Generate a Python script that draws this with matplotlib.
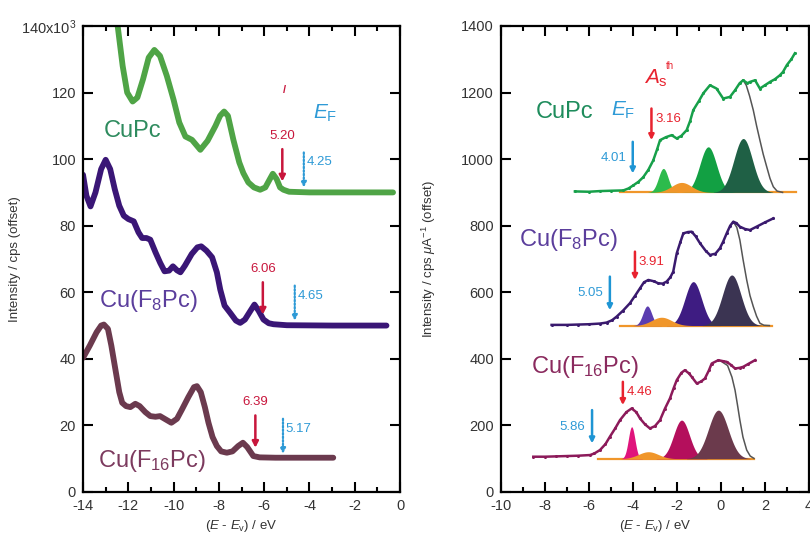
import numpy as np
import matplotlib
matplotlib.use('Agg')
import matplotlib.pyplot as plt
import matplotlib.ticker as ticker

plt.rcParams['font.family'] = ['Liberation Sans', 'DejaVu Sans']
plt.rcParams['mathtext.fontset'] = 'custom'
plt.rcParams['mathtext.rm'] = 'Liberation Sans'
plt.rcParams['mathtext.it'] = 'Liberation Sans:italic'
plt.rcParams['mathtext.bf'] = 'Liberation Sans:bold'
plt.rcParams['axes.unicode_minus'] = False

# ---------------- left panel: UPS spectra (offset) ----------------
cupc_x = [-12.7, -12.47, -12.25, -12.05, -11.81, -11.6, -11.35, -11.1, -10.85, -10.6, -10.3, -10.0,
          -9.75, -9.48, -9.19, -8.82, -8.5, -8.15, -7.95, -7.77, -7.6, -7.36, -7.1, -6.92, -6.7,
          -6.45, -6.18, -5.95, -5.75, -5.62, -5.45, -5.3, -5.15, -4.9, -4.0, -2.0, -0.31]
cupc_y = [150, 140, 128, 120, 117.3, 118.5, 124, 130.5, 132.8, 131, 125, 117.8,
          111, 106.8, 105.8, 102.8, 105.5, 110, 113, 114.3, 113, 105.8, 99, 95.8, 93,
          91.5, 90.8, 91.5, 94, 95.6, 94, 91.5, 90.8, 90.2, 90, 90, 90]

f8_x = [-14.0, -13.85, -13.67, -13.45, -13.2, -13.0, -12.8, -12.6, -12.4, -12.2, -12.0, -11.76,
        -11.55, -11.39, -11.2, -11.03, -10.8, -10.59, -10.4, -10.2, -10.03, -9.85, -9.7, -9.5,
        -9.2, -8.95, -8.78, -8.55, -8.3, -8.09, -7.94, -7.75, -7.5, -7.25, -7.06, -6.85, -6.6,
        -6.43, -6.25, -6.03, -5.8, -5.59, -5.0, -3.0, -0.6]
f8_y = [95.3, 89, 85.8, 90, 97, 99.8, 97, 91, 86, 83, 82, 81.3,
        78, 76.3, 76.3, 75.8, 72, 68.8, 66.3, 66.5, 67.8, 66.6, 66, 68,
        71.5, 73.5, 73.8, 72.5, 70.5, 66, 60.8, 56, 53.8, 51.5, 50.8, 51.8, 54.5,
        56.3, 54.5, 51.8, 50.7, 50.4, 50.1, 50, 50]

f16_x = [-14.0, -13.7, -13.4, -13.2, -13.08, -12.9, -12.75, -12.57, -12.4, -12.27, -12.1, -11.91,
         -11.69, -11.5, -11.25, -11.03, -10.8, -10.6, -10.35, -10.1, -9.85, -9.63, -9.35, -9.1,
         -8.97, -8.8, -8.62, -8.46, -8.28, -8.09, -7.9, -7.65, -7.4, -7.15, -6.94, -6.75, -6.48,
         -6.2, -5.5, -2.95]
f16_y = [40.3, 44, 48, 50, 50.3, 49, 44, 36.8, 30, 26.8, 25.8, 25.5,
         26.5, 25.8, 24, 22.8, 22.6, 22.8, 21.8, 20.8, 22, 24.8, 28.5, 31.5,
         31.8, 30, 25.5, 20.8, 16.5, 13.8, 12.2, 11.8, 12.2, 13.8, 14.8, 13.5, 10.8,
         10.4, 10.3, 10.3]

ups_names = ['CuPc', 'Cu(F$_8$Pc)', 'Cu(F$_{16}$Pc)']
ups_base = [90, 50, 10]
ups_vb = [5.20, 6.06, 6.39]      # red arrows
ups_ef = [4.25, 4.65, 5.17]      # blue dotted arrows
ups_line_col = ['#4fa446', '#3a1676', '#6b3a4e']
ups_text_col = ['#2e8b5e', '#5b3e9c', '#7c3a5e']
ups_label_pos = [(-11.83, 108.3), (-11.1, 57.3), (-10.95, 9.3)]

# ---------------- right panel: IPES spectra with Gaussian components ----------------
ip_cupc_x = [-6.64, -6.0, -5.5, -5.0, -4.44, -4.2, -3.99, -3.75, -3.53, -3.3, -3.08, -2.9, -2.77,
             -2.5, -2.24, -2.01, -1.8, -1.56, -1.4, -1.26, -1.0, -0.8, -0.5, -0.2, 0.1, 0.41, 0.64,
             0.85, 1.01, 1.2, 1.32, 1.55, 1.77, 2.0, 2.23, 2.45, 2.68, 2.82, 3.0, 3.2, 3.36]
ip_cupc_y = [903, 902, 904, 905, 906, 912, 921, 932, 946, 968, 996, 1030, 1057,
             1066, 1072, 1062, 1070, 1087, 1115, 1147, 1175, 1198, 1222, 1212, 1182, 1187, 1207,
             1228, 1237, 1228, 1232, 1237, 1212, 1222, 1232, 1240, 1252, 1262, 1283, 1300, 1318]
ip_f8_x = [-7.7, -7.0, -6.5, -6.0, -5.5, -5.2, -4.95, -4.74, -4.45, -4.14, -3.9, -3.68, -3.5, -3.3,
           -3.05, -2.85, -2.65, -2.47, -2.3, -2.17, -2.01, -1.85, -1.71, -1.5, -1.33, -1.15, -0.95,
           -0.7, -0.5, -0.25, -0.05, 0.1, 0.26, 0.42, 0.56, 0.7, 0.86, 1.1, 1.32, 1.62, 2.0, 2.38]
ip_f8_y = [502, 502, 503, 504, 506, 509, 516, 527, 545, 567, 590, 612, 630, 637,
           633, 627, 626, 632, 645, 662, 717, 750, 777, 781, 782, 768, 747,
           725, 712, 716, 732, 752, 777, 800, 812, 808, 797, 790, 787, 797, 810, 822]
ip_f16_x = [-8.53, -8.0, -7.5, -7.0, -6.5, -5.95, -5.75, -5.5, -5.25, -5.05, -4.8, -4.59, -4.3,
            -4.06, -3.85, -3.68, -3.45, -3.23, -3.0, -2.77, -2.55, -2.32, -2.15, -2.01, -1.8,
            -1.64, -1.45, -1.33, -1.1, -0.9, -0.73, -0.55, -0.42, -0.12, 0.1, 0.26, 0.45, 0.64,
            0.85, 1.01, 1.25, 1.55]
ip_f16_y = [106, 106, 107, 108, 109, 111, 116, 126, 144, 166, 192, 216, 240,
            251, 240, 221, 203, 191, 198, 216, 250, 281, 312, 336, 358,
            366, 356, 346, 326, 332, 341, 365, 386, 396, 393, 391, 382, 371,
            373, 376, 385, 396]

# envelope of the fit (visible tail only)
env_cupc_x = [1.01, 1.15, 1.3, 1.47, 1.62, 1.77, 1.92, 2.08, 2.23, 2.38, 2.55, 2.8]
env_cupc_y = [1237, 1222, 1190, 1147, 1100, 1057, 1015, 977, 942, 917, 904, 900]
env_f8_x = [0.56, 0.72, 0.86, 1.0, 1.17, 1.32, 1.47, 1.62, 1.77, 1.95, 2.2]
env_f8_y = [812, 795, 757, 700, 637, 590, 557, 528, 507, 501, 500]
env_f16_x = [0.0, 0.3, 0.5, 0.64, 0.75, 0.86, 1.0, 1.17, 1.33, 1.5]
env_f16_y = [393, 380, 345, 306, 262, 216, 165, 126, 108, 101]

# Gaussian components: centre, height, width
g_cupc = dict(c=[-2.62, -1.79, -0.58, 1.01], h=[72, 30, 137, 162], s=[0.22, 0.45, 0.38, 0.42],
              col=['#2dbb4c', '#f0962a', '#12a043', '#1f6045'])
g_f8 = dict(c=[-3.35, -2.7, -1.26, 0.49], h=[59, 25, 132, 152], s=[0.2, 0.45, 0.38, 0.42],
            col=['#5b3db0', '#f0962a', '#3e1c82', '#3b3452'])
g_f16 = dict(c=[-4.06, -3.3, -1.79, -0.12], h=[96, 21, 116, 146], s=[0.15, 0.45, 0.36, 0.45],
             col=['#e0147c', '#f0962a', '#b40f5c', '#6b3a4c'])

ip_base = [900, 500, 100]
ip_orange_range = [(-4.6, 3.4), (-4.6, 2.3), (-5.6, 1.5)]
ip_as = [3.16, 3.91, 4.46]      # red arrows
ip_as_y = [(1152, 1057), (722, 637), (331, 261)]
ip_ef = [4.01, 5.05, 5.86]      # blue arrows
ip_ef_y = [(1052, 957), (647, 546), (246, 146)]
ip_line_col = ['#17a04a', '#3a1a6e', '#8c1a5a']
ip_text_col = ['#1e8c5c', '#5b3e9c', '#8a2a5e']
ip_label_pos = [(-7.1, 1143), (-6.95, 757), (-6.18, 376)]

RED = '#c8163c'
BLUE = '#2e9ad6'
TICKCOL = '#333333'

fig = plt.figure(figsize=(8.1, 5.4), dpi=100)
axL = fig.add_axes([0.1025, 0.0889, 0.3914, 0.863])
axR = fig.add_axes([0.6185, 0.0889, 0.3802, 0.863])


def style_axis(ax, xlim, ylim, ymajor):
    ax.set_xlim(*xlim)
    ax.set_ylim(*ylim)
    ax.xaxis.set_major_locator(ticker.MultipleLocator(2))
    ax.xaxis.set_minor_locator(ticker.MultipleLocator(1))
    ax.yaxis.set_major_locator(ticker.MultipleLocator(ymajor))
    ax.tick_params(which='both', direction='in', top=True, right=True, width=1.5,
                   labelsize=10.5, labelcolor=TICKCOL, pad=5)
    ax.tick_params(which='major', length=7)
    ax.tick_params(which='minor', length=3.5)
    for sp in ax.spines.values():
        sp.set_linewidth(1.6)
    ax.set_xlabel(r'($\mathit{E}$ - $\mathit{E}_\mathrm{v}$) / eV', fontsize=9.5, color=TICKCOL)


# ---- left
style_axis(axL, (-14, 0), (0, 140), 20)
yt = np.arange(0, 141, 20)
axL.set_yticks(yt)
axL.set_yticklabels([str(v) for v in yt[:-1]] + [r'140x10$^{3}$'])
axL.set_ylabel('Intensity / cps (offset)', fontsize=9.5, color=TICKCOL)
axL.yaxis.set_label_coords(-0.195, 0.5)

ups_x = [cupc_x, f8_x, f16_x]
ups_y = [cupc_y, f8_y, f16_y]
for i in range(3):
    axL.plot(ups_x[i], ups_y[i], color=ups_line_col[i], lw=4.2, solid_joinstyle='round',
             solid_capstyle='round', clip_on=True)
    axL.text(*ups_label_pos[i], ups_names[i], color=ups_text_col[i], fontsize=17,
             ha='center', va='center')
    b = ups_base[i]
    axL.annotate('', xy=(-ups_vb[i], b + 3.3), xytext=(-ups_vb[i], b + 13),
                 arrowprops=dict(arrowstyle='-|>,head_width=0.18,head_length=0.35',
                                 color=RED, lw=1.8, shrinkA=0, shrinkB=0))
    axL.text(-ups_vb[i], b + 17, f'{ups_vb[i]:.2f}', color=RED, fontsize=9.5,
             ha='center', va='center')
    axL.annotate('', xy=(-ups_ef[i], b + 1.5), xytext=(-ups_ef[i], b + 12),
                 arrowprops=dict(arrowstyle='-|>,head_width=0.15,head_length=0.3',
                                 color=BLUE, lw=1.6, ls=(0, (0.7, 0.9)), shrinkA=0, shrinkB=0))
    axL.text(-ups_ef[i] + 0.12, b + 9, f'{ups_ef[i]:.2f}', color=BLUE, fontsize=9.5,
             ha='left', va='center')

axL.text(-3.32, 113.8, r'$\mathit{E}_\mathrm{F}$', color=BLUE, fontsize=15, ha='center', va='center')
axL.text(-5.12, 120.8, '/', color=RED, fontsize=8, fontweight='bold', ha='center', va='center')

# ---- right
style_axis(axR, (-10, 4), (0, 1400), 200)
axR.set_ylabel(r'Intensity / cps $\mu$A$^{-1}$ (offset)', fontsize=9.5, color=TICKCOL)
axR.yaxis.set_label_coords(-0.205, 0.5)

ip_x = [ip_cupc_x, ip_f8_x, ip_f16_x]
ip_y = [ip_cupc_y, ip_f8_y, ip_f16_y]
env_x = [env_cupc_x, env_f8_x, env_f16_x]
env_y = [env_cupc_y, env_f8_y, env_f16_y]
gauss = [g_cupc, g_f8, g_f16]
for i in range(3):
    b = ip_base[i]
    g = gauss[i]
    lo, hi = ip_orange_range[i]
    axR.plot([lo, hi], [b, b], color='#f0962a', lw=1.6, zorder=2)
    for c, h, s, col in zip(g['c'], g['h'], g['s'], g['col']):
        gx = np.linspace(c - 3.2 * s, c + 3.2 * s, 80)
        gy = b + h * np.exp(-0.5 * ((gx - c) / s) ** 2)
        axR.fill_between(gx, b, gy, color=col, lw=0, zorder=3 if col != '#f0962a' else 4)
    axR.plot(env_x[i], env_y[i], color='#555555', lw=1.1, zorder=5)
    axR.plot(ip_x[i], ip_y[i], color=ip_line_col[i], lw=1.8, marker='o', ms=2.2,
             markeredgewidth=0, zorder=6)
    axR.text(*ip_label_pos[i], ups_names[i], color=ip_text_col[i], fontsize=17,
             ha='center', va='center')
    y0, y1 = ip_as_y[i]
    axR.annotate('', xy=(-ip_as[i], y1), xytext=(-ip_as[i], y0),
                 arrowprops=dict(arrowstyle='-|>,head_width=0.15,head_length=0.3',
                                 color='#e8232f', lw=1.8, shrinkA=0, shrinkB=0))
    axR.text(-ip_as[i] + 0.18, y0 - 30, f'{ip_as[i]:.2f}', color='#e8232f', fontsize=9.5,
             ha='left', va='center')
    y0, y1 = ip_ef_y[i]
    axR.annotate('', xy=(-ip_ef[i], y1), xytext=(-ip_ef[i], y0),
                 arrowprops=dict(arrowstyle='-|>,head_width=0.15,head_length=0.3',
                                 color='#1e95d4', lw=1.8, shrinkA=0, shrinkB=0))
    axR.text(-ip_ef[i] - 0.3, (y0 + y1) / 2, f'{ip_ef[i]:.2f}', color='#2e9ad6', fontsize=9.5,
             ha='right', va='center')

axR.text(-4.44, 1147, r'$\mathit{E}_\mathrm{F}$', color=BLUE, fontsize=15, ha='center', va='center')
axR.text(-2.95, 1243, r'$\mathit{A}_\mathrm{s}$', color='#e8232f', fontsize=15,
         ha='center', va='center')
axR.text(-2.5, 1280, 'th', color='#e8232f', fontsize=7, ha='left', va='center')

fig.savefig('out.png', dpi=100)
